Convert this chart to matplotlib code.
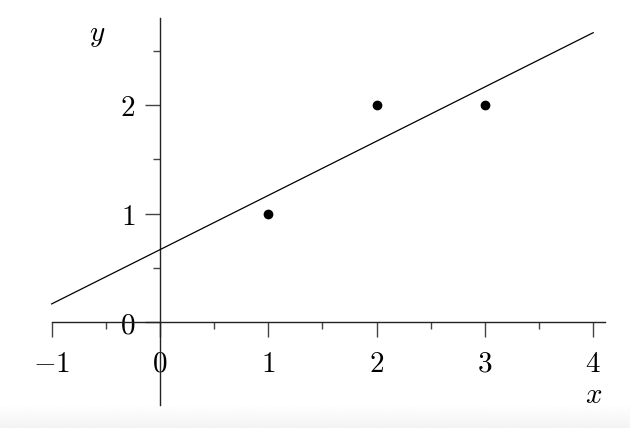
import matplotlib
matplotlib.use("Agg")
import matplotlib.pyplot as plt
import numpy as np

plt.rcParams['mathtext.fontset'] = 'cm'
plt.rcParams['font.family'] = ['DejaVu Serif']

# Data
pts_x = [1, 2, 3]
pts_y = [1, 2, 2]
fit_x = [-1, 4]
slope = 0.5
intercept = 2 / 3
fit_y = [intercept + slope * v for v in fit_x]

x_major = [-1, 0, 1, 2, 3, 4]
x_major_labels = ['$-1$', '$0$', '$1$', '$2$', '$3$', '$4$']
x_minor = [-0.5, 0.5, 1.5, 2.5, 3.5]
y_major = [0, 1, 2]
y_major_labels = ['$0$', '$1$', '$2$']
y_minor = [0.5, 1.5, 2.5]

fig = plt.figure(figsize=(6.30, 4.28), dpi=100)

# faint grey band at the bottom of the screenshot
bg = fig.add_axes([0, 0, 1, 24 / 428], zorder=0)
grad = np.linspace(0.955, 1.0, 50).reshape(-1, 1)
bg.imshow(grad, aspect='auto', cmap='gray', vmin=0, vmax=1, origin='lower',
          extent=[0, 1, 0, 1])
bg.axis('off')

ax = fig.add_axes([0, 0, 1, 1], zorder=1)
ax.patch.set_alpha(0)
ax.set_xlim(-1.477, 4.340)
ax.set_ylim(-0.977, 2.968)

for s in ['top', 'right']:
    ax.spines[s].set_visible(False)
ax.spines['left'].set_position(('data', 0))
ax.spines['bottom'].set_position(('data', 0))
ax.spines['bottom'].set_bounds(-1, 4.11)
ax.spines['left'].set_bounds(-0.765, 2.80)
for s in ['left', 'bottom']:
    ax.spines[s].set_linewidth(1.0)
    ax.spines[s].set_color('#222222')

ax.set_xticks(x_major)
ax.set_xticklabels(x_major_labels)
ax.set_xticks(x_minor, minor=True)
ax.set_yticks(y_major)
ax.set_yticklabels(y_major_labels)
ax.set_yticks(y_minor, minor=True)

ax.tick_params(axis='x', which='major', direction='out', length=11, width=1.0,
               color='#444444', labelsize=21, pad=9)
ax.tick_params(axis='x', which='minor', direction='out', length=5, width=1.0,
               color='#444444')
ax.tick_params(axis='y', which='major', direction='out', length=11, width=1.0,
               color='#444444', labelsize=21, pad=7)
ax.tick_params(axis='y', which='minor', direction='out', length=5, width=1.0,
               color='#444444')

ax.plot(fit_x, fit_y, color='black', linewidth=0.9, zorder=3)
ax.plot(pts_x, pts_y, 'o', color='black', markersize=6, zorder=4)

ax.text(4.0, -0.67, '$x$', fontsize=21, ha='center', va='center')
ax.text(-0.58, 2.65, '$y$', fontsize=21, ha='center', va='center')

fig.savefig('out.png', dpi=100)
